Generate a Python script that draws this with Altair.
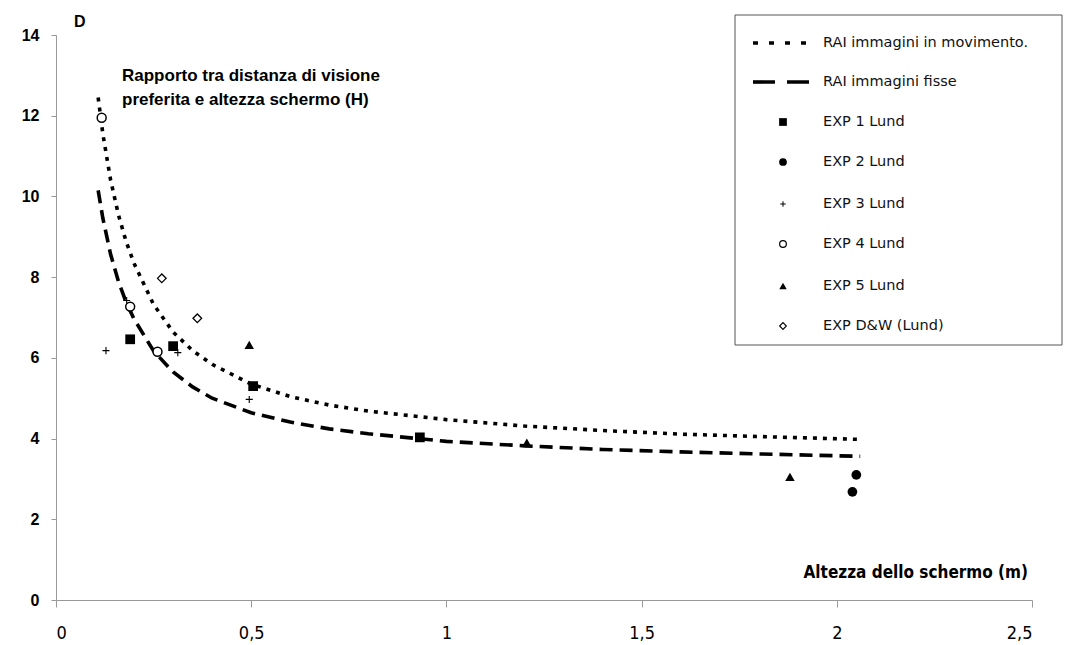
import altair as alt
import pandas as pd

# ---- data ----
H_CURVE = [0.108, 0.12, 0.14, 0.16, 0.18, 0.2, 0.25, 0.3, 0.35, 0.4, 0.5, 0.6, 0.7, 0.8, 1.0, 1.2, 1.4, 1.6, 1.8, 2.06]
RAI_MOV = [12.45, 11.55, 10.40, 9.54, 8.87, 8.34, 7.32, 6.64, 6.18, 5.84, 5.35, 5.04, 4.83, 4.68, 4.47, 4.31, 4.20, 4.11, 4.05, 3.98]
RAI_FIX = [10.15, 9.46, 8.56, 7.89, 7.37, 6.96, 6.17, 5.65, 5.28, 5.00, 4.64, 4.41, 4.24, 4.12, 3.93, 3.82, 3.73, 3.67, 3.62, 3.56]

EXP1_H = [0.190, 0.300, 0.505, 0.932]
EXP1_D = [6.46, 6.29, 5.30, 4.03]
EXP2_H = [2.05, 2.04]
EXP2_D = [3.10, 2.68]
EXP3_H = [0.495, 0.181, 0.312, 0.128]
EXP3_D = [4.97, 7.42, 6.13, 6.18]
EXP4_H = [0.117, 0.190, 0.260]
EXP4_D = [11.95, 7.27, 6.15]
EXP5_H = [0.495, 1.206, 1.88]
EXP5_D = [6.32, 3.90, 3.05]
DW_H = [0.271, 0.362]
DW_D = [7.97, 6.98]

LEGEND_LABELS = ["RAI immagini in movimento.", "RAI immagini fisse", "EXP 1 Lund", "EXP 2 Lund",
                 "EXP 3 Lund", "EXP 4 Lund", "EXP 5 Lund", "EXP D&W (Lund)"]
X_TICKS = [0, 0.5, 1, 1.5, 2, 2.5]
Y_TICKS = [0, 2, 4, 6, 8, 10, 12, 14]

W, H = 976, 565
BOLD = "Liberation Sans, Arial, sans-serif"
NARROW = "'Liberation Sans Narrow', 'DejaVu Sans Condensed', 'Arial Narrow', sans-serif"
PLUS = "M-1,0L1,0M0,-1L0,1"

X = alt.X("H:Q", scale=alt.Scale(domain=[0, 2.5], nice=False, zero=False),
          axis=alt.Axis(values=X_TICKS, title=None, grid=False, tickSize=7, labelPadding=17,
                        labelExpr="replace(toString(datum.value), '.', ',')",
                        labelFont=NARROW, labelFontSize=18, labelColor="black",
                        domainColor="#999", tickColor="#999"))
Y = alt.Y("D:Q", scale=alt.Scale(domain=[0, 14], nice=False),
          axis=alt.Axis(values=Y_TICKS, title=None, grid=False, tickSize=5, labelPadding=12,
                        labelFont=BOLD, labelFontWeight="bold", labelFontSize=16, labelColor="black",
                        domainColor="#999", tickColor="#999"))

mov_df = pd.DataFrame({"H": H_CURVE, "D": RAI_MOV})
fix_df = pd.DataFrame({"H": H_CURVE, "D": RAI_FIX})
line_mov = alt.Chart(mov_df).mark_line(color="black", strokeWidth=3.6, strokeDash=[4, 6]).encode(x=X, y=Y)
line_fix = alt.Chart(fix_df).mark_line(color="black", strokeWidth=3.6, strokeDash=[13, 7]).encode(x=X, y=Y)


def pts(h, d, shape, filled, size, sw=1.2):
    df = pd.DataFrame({"H": h, "D": d})
    return alt.Chart(df).mark_point(shape=shape, filled=filled, size=size, color="black",
                                    fill="black" if filled else "white",
                                    strokeWidth=sw, opacity=1).encode(x=X, y=Y)


points = [
    pts(EXP1_H, EXP1_D, "square", True, 95),
    pts(EXP2_H, EXP2_D, "circle", True, 95),
    pts(EXP3_H, EXP3_D, PLUS, False, 50, 1.1),
    pts(EXP4_H, EXP4_D, "circle", False, 80, 1.5),
    pts(EXP5_H, EXP5_D, "triangle-up", True, 90),
    pts(DW_H, DW_D, "diamond", False, 75, 1.3),
]

one = pd.DataFrame({"a": [0]})

title_d = alt.Chart(one).mark_text(text="D", font=BOLD, fontWeight="bold", fontSize=16,
                                   align="left", baseline="middle").encode(x=alt.value(18), y=alt.value(-13))
subtitle = alt.Chart(one).mark_text(text=["Rapporto tra distanza di visione", "preferita e altezza schermo (H)"],
                                    font=BOLD, fontWeight="bold", fontSize=17, lineHeight=24,
                                    align="left", baseline="middle").encode(x=alt.value(66), y=alt.value(41))
xtitle = alt.Chart(one).mark_text(text="Altezza dello schermo (m)", font=NARROW, fontWeight="bold", fontSize=17,
                                  align="right", baseline="middle").encode(x=alt.value(972), y=alt.value(538))

# ---- legend box ----
LX0, LX1, LY0, LY1 = 679, 1006, -20, 310
ROWS = [8, 47, 87, 127, 169, 209, 251, 291]
SYM_X, TXT_X = 727, 767
legend_layers = [
    alt.Chart(one).mark_rect(fill="white", stroke="#555", strokeWidth=1).encode(
        x=alt.value(LX0), x2=alt.value(LX1), y=alt.value(LY0), y2=alt.value(LY1)),
    alt.Chart(one).mark_rule(color="black", strokeWidth=3.6, strokeDash=[5, 11]).encode(
        x=alt.value(697), x2=alt.value(753), y=alt.value(ROWS[0])),
    alt.Chart(one).mark_rule(color="black", strokeWidth=3.6, strokeDash=[22, 12]).encode(
        x=alt.value(697), x2=alt.value(753), y=alt.value(ROWS[1])),
]
leg_syms = [("square", True, 60, 1.2), ("circle", True, 60, 1.2), (PLUS, False, 30, 1.0),
            ("circle", False, 45, 1.2), ("triangle-up", True, 55, 1.2), ("diamond", False, 45, 1.1)]
for i, (shape, filled, size, sw) in enumerate(leg_syms):
    legend_layers.append(
        alt.Chart(one).mark_point(shape=shape, filled=filled, size=size, color="black",
                                  fill="black" if filled else "white", strokeWidth=sw, opacity=1).encode(
            x=alt.value(SYM_X), y=alt.value(ROWS[i + 2])))
for i, lab in enumerate(LEGEND_LABELS):
    legend_layers.append(
        alt.Chart(one).mark_text(text=lab, font="'DejaVu Sans', sans-serif", fontSize=14.5,
                                 align="left", baseline="middle", color="#111").encode(
            x=alt.value(TXT_X), y=alt.value(ROWS[i])))

chart = alt.layer(line_mov, line_fix, *points, title_d, subtitle, xtitle, *legend_layers).properties(
    width=W, height=H,
    padding={"left": 56, "top": 35, "right": 35, "bottom": 45},
    autosize=alt.AutoSizeParams(type="none"),
    background="white",
).configure_view(stroke=None)

chart.save("out.html", embed_options={"renderer": "svg", "actions": False})
